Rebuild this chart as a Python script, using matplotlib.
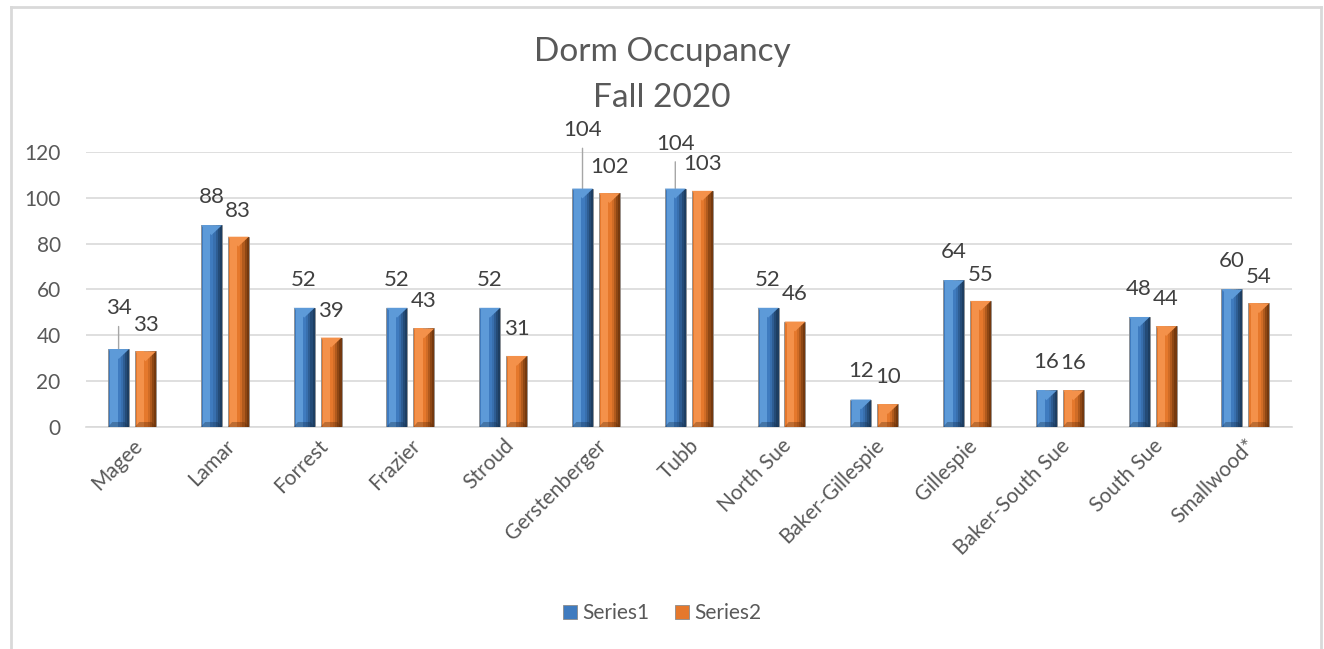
import matplotlib
matplotlib.use("Agg")
import matplotlib.pyplot as plt
from matplotlib.patches import Polygon, Rectangle
from matplotlib.lines import Line2D
import numpy as np

plt.rcParams['font.family'] = ['Lato', 'DejaVu Sans']

dorms = ["Magee", "Lamar", "Forrest", "Frazier", "Stroud", "Gerstenberger", "Tubb",
         "North Sue", "Baker-Gillespie", "Gillespie", "Baker-South Sue", "South Sue",
         "Smallwood*"]
series1 = [34, 88, 52, 52, 52, 104, 104, 52, 12, 64, 16, 48, 60]
series2 = [33, 83, 39, 43, 31, 102, 103, 46, 10, 55, 16, 44, 54]
series_names = ["Series1", "Series2"]

blue = "#3f7bbf"
blue_light = "#5d9ad8"
blue_dark = "#16304d"
orange = "#e5782c"
orange_light = "#f4914a"
orange_dark = "#5a2a08"
text_col = "#595959"
grid_col = "#d9d9d9"

fig = plt.figure(figsize=(13.24, 6.49), dpi=100)
ax = fig.add_axes([0.0647, 0.342, 0.911, 0.424])

x = np.arange(len(dorms))
w = 0.226
off = 0.145


def bevel_bars(xpos, vals, base, light, dark):
    bars = ax.bar(xpos, vals, width=w, color=base, edgecolor="#8c8c8c",
                  linewidth=0.6, zorder=3)
    for b in bars:
        x0, h, bw = b.get_x(), b.get_height(), b.get_width()
        d = min(4.3, h * 0.5)
        # left highlight strip
        ax.add_patch(Rectangle((x0 + bw * 0.1, 0), bw * 0.35, h, color=light,
                               lw=0, zorder=3.5))
        # right shaded side, darker towards the edge
        for k, a in enumerate([0.25, 0.45, 0.65, 0.8]):
            ax.add_patch(Rectangle((x0 + bw * (0.6 + 0.1 * k), 0), bw * (0.4 - 0.1 * k), h,
                                   color=dark, alpha=a * 0.6, lw=0, zorder=3.6))
        # top bevel triangle
        ax.add_patch(Polygon([(x0, h), (x0 + bw, h), (x0 + bw / 2, h - d)],
                             closed=True, color=light, lw=0, zorder=3.7))
        # bottom bevel
        bh = min(2.2, h * 0.3)
        ax.add_patch(Polygon([(x0, 0), (x0 + bw, 0), (x0 + bw * 0.8, bh),
                              (x0 + bw * 0.2, bh)],
                             closed=True, color=dark, alpha=0.35, lw=0, zorder=3.7))
    return bars


bevel_bars(x - off, series1, blue, blue_light, blue_dark)
bevel_bars(x + off, series2, orange, orange_light, orange_dark)

# data labels (extra lift where Excel moved them and drew a leader line)
lift1 = [39, 27, 27, 27, 27, 56, 43, 27, 27, 27, 27, 27, 27]
lift2 = [25, 25, 26, 26, 26, 25, 26, 26, 26, 25, 26, 26, 25]
for i in range(len(dorms)):
    ax.annotate(str(series1[i]), (x[i] - off, series1[i]), xytext=(0, lift1[i] * 0.75),
                textcoords="offset points", ha="center", va="center", fontsize=16,
                color="#404040", annotation_clip=False, zorder=5)
    if lift1[i] > 30:
        ax.annotate("", (x[i] - off, series1[i]), xytext=(0, lift1[i] * 0.75 - 13),
                    textcoords="offset points", annotation_clip=False,
                    arrowprops=dict(arrowstyle="-", color="#a6a6a6", lw=1,
                                    shrinkA=0, shrinkB=0))
    ax.annotate(str(series2[i]), (x[i] + off, series2[i]), xytext=(0, lift2[i] * 0.75),
                textcoords="offset points", ha="center", va="center", fontsize=16,
                color="#404040", annotation_clip=False, zorder=5)

ax.set_xlim(-0.5, len(dorms) - 0.5)
ax.set_ylim(0, 120)
ax.set_yticks(range(0, 121, 20))
ax.yaxis.grid(True, color=grid_col, lw=1.2)
ax.set_axisbelow(True)
for s in ["top", "right", "left"]:
    ax.spines[s].set_visible(False)
ax.spines["bottom"].set_color(grid_col)
ax.spines["bottom"].set_linewidth(1.2)
ax.tick_params(length=0, labelsize=15, colors=text_col)
ax.tick_params(axis="y", pad=18)
ax.tick_params(axis="x", pad=6)
ax.set_xticks(x)
ax.set_xticklabels(dorms, rotation=45, ha="right", rotation_mode="anchor")

fig.text(0.5, 0.92, "Dorm Occupancy", ha="center", va="center", fontsize=24,
         color=text_col)
fig.text(0.5, 0.849, "Fall 2020", ha="center", va="center", fontsize=24,
         color=text_col)

handles = [Rectangle((0, 0), 1, 1, facecolor=c, edgecolor="#8c8c8c", lw=0.6)
           for c in [blue, orange]]
fig.legend(handles, series_names, loc="center", bbox_to_anchor=(0.5, 0.055),
           ncol=2, frameon=False, fontsize=15, handlelength=0.7, handleheight=0.7,
           handletextpad=0.25, columnspacing=1.2, labelcolor=text_col)

# chart-area border like the Excel frame
fig.add_artist(Line2D([0.0083, 0.0083], [0, 0.989], color="#d9d9d9", lw=2))
fig.add_artist(Line2D([0.0083, 0.9977], [0.989, 0.989], color="#d9d9d9", lw=2))
fig.add_artist(Line2D([0.9977, 0.9977], [0, 0.989], color="#d9d9d9", lw=2))

fig.savefig("out.png", dpi=100, facecolor="white")
